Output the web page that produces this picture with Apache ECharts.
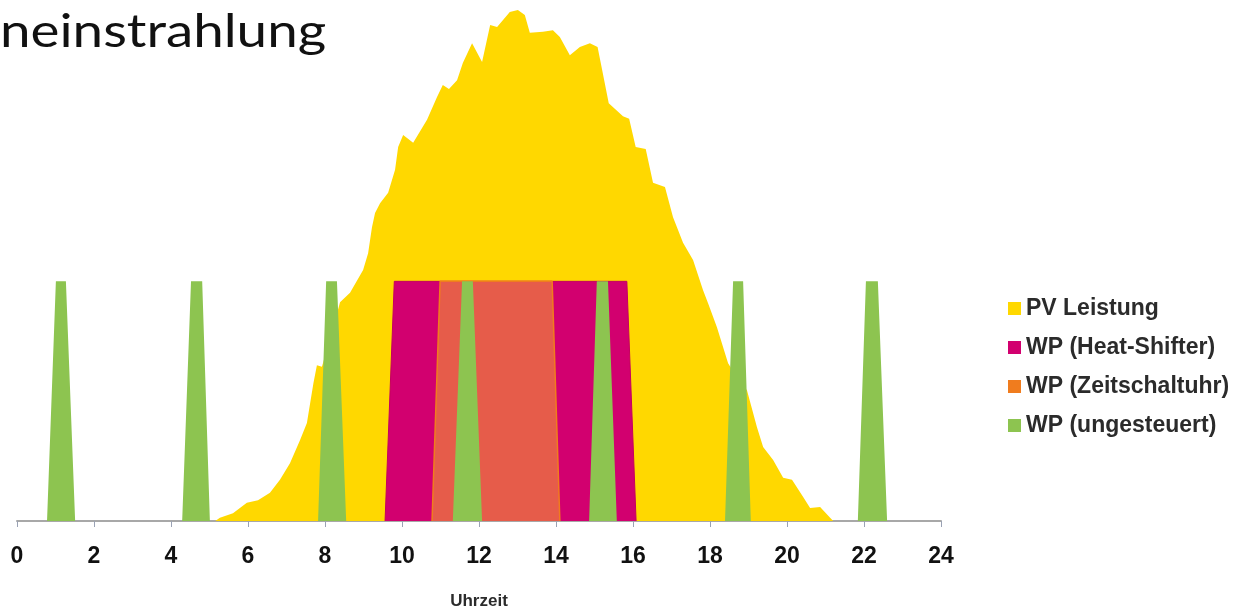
<!DOCTYPE html>
<html>
<head>
<meta charset="utf-8">
<script src="https://cdn.jsdelivr.net/npm/echarts@6/dist/echarts.min.js"></script>
<style>
html,body{margin:0;padding:0;background:#fff;}
#chart{width:1238px;height:610px;}
</style>
</head>
<body>
<div id="chart"></div>
<script>
// ---- data (x = hour of day, y = relative power 0..100) ----
const titleText = 'neinstrahlung';
const xAxisName = 'Uhrzeit';
const seriesNames = ['PV Leistung', 'WP (Heat-Shifter)', 'WP (Zeitschaltuhr)', 'WP (ungesteuert)'];

const pvHours = [5.15, 5.27, 5.61, 5.97, 6.26, 6.57, 6.83, 7.09, 7.35, 7.53, 7.7, 7.79, 7.92, 8.2, 8.39, 8.65, 8.99, 9.12, 9.22, 9.3, 9.43, 9.64, 9.82, 9.9, 10.03, 10.29, 10.65, 10.91, 11.06, 11.22, 11.43, 11.58, 11.82, 12.08, 12.29, 12.47, 12.8, 13.01, 13.19, 13.32, 13.66, 13.92, 14.1, 14.36, 14.62, 14.88, 15.08, 15.19, 15.37, 15.74, 15.9, 16.07, 16.33, 16.52, 16.83, 17.04, 17.3, 17.56, 17.82, 17.95, 18.18, 18.47, 18.7, 18.96, 19.22, 19.38, 19.64, 19.9, 20.13, 20.42, 20.6, 20.86, 21.12, 21.2];
const pvPower = [0, 0.6, 1.5, 3.5, 4.0, 5.4, 7.9, 11.1, 15.5, 18.8, 26.5, 29.9, 29.6, 36.7, 42.0, 43.8, 48.2, 51.4, 56.4, 59.1, 61.0, 63.0, 67.4, 71.8, 74.1, 72.6, 77.0, 81.4, 83.7, 82.9, 84.6, 87.9, 91.7, 88.1, 95.2, 94.8, 97.7, 98.1, 97.1, 93.7, 93.9, 94.2, 92.9, 89.4, 91.0, 91.7, 91.0, 86.9, 80.2, 77.7, 77.2, 71.8, 71.4, 64.9, 64.1, 58.3, 53.4, 50.1, 44.3, 41.8, 37.2, 30.3, 27.6, 25.1, 18.0, 14.2, 11.7, 8.3, 7.9, 4.6, 2.5, 2.7, 0.6, 0];

const heatShifterHours = [9.56, 9.8, 15.84, 16.08];
const heatShifterPower = [0, 46, 46, 0];

const timerHours = [10.78, 10.99, 13.9, 14.1];
const timerPower = [0, 46, 46, 0];

const uncontrolledHours = [0.78, 1.01, 1.27, 1.51, 4.29, 4.52, 4.81, 5.01, 7.82, 8.03, 8.31, 8.55, 11.32, 11.56, 11.84, 12.08, 14.86, 15.06, 15.35, 15.58, 18.39, 18.6, 18.86, 19.06, 21.84, 22.05, 22.36, 22.6];
const uncontrolledPower = [0, 46, 46, 0, 0, 46, 46, 0, 0, 46, 46, 0, 0, 46, 46, 0, 0, 46, 46, 0, 0, 46, 46, 0, 0, 46, 46, 0];

const xTicks = [0, 2, 4, 6, 8, 10, 12, 14, 16, 18, 20, 22, 24];

// ---- build ----
const zip = (xs, ys) => xs.map((x, i) => [x, ys[i]]);
const colors = {
  pv: '#ffd800',
  heat: '#d2006f',
  timerLegend: '#f07c1e',
  timerFill: '#e65c4a',
  green: '#8dc450'
};

const chart = echarts.init(document.getElementById('chart'), null, {renderer: 'canvas'});
chart.setOption({
  animation: false,
  backgroundColor: '#ffffff',
  graphic: [{
    type: 'text',
    x: 0,
    y: 9,
    scaleX: 1.19,
    style: {
      text: titleText,
      font: '46px Lato, "Open Sans", sans-serif',
      fill: '#111111'
    }
  }],
  legend: {
    orient: 'vertical',
    left: 1008,
    top: 297,
    padding: 0,
    icon: 'rect',
    itemWidth: 13,
    itemHeight: 13,
    itemGap: 16,
    textStyle: {
      fontFamily: '"Liberation Sans", Arial, sans-serif',
      fontWeight: 'bold',
      fontSize: 23,
      color: '#2b2b2b'
    },
    data: seriesNames
  },
  grid: {left: 17, right: 297, top: 0, bottom: 89, containLabel: false, outerBoundsMode: 'none'},
  xAxis: {
    type: 'value',
    min: 0,
    max: 24,
    interval: 2,
    name: xAxisName,
    nameLocation: 'middle',
    nameGap: 72,
    nameTextStyle: {
      fontFamily: '"Liberation Sans", Arial, sans-serif',
      fontWeight: 'bold',
      fontSize: 17,
      color: '#2b2b2b'
    },
    axisLine: {show: true, onZero: false, lineStyle: {color: '#a8a8a8', width: 2}},
    axisTick: {show: true, length: 6, lineStyle: {color: '#9aa2b4', width: 1}},
    axisLabel: {
      margin: 24,
      fontFamily: '"Liberation Sans", Arial, sans-serif',
      fontWeight: 'bold',
      fontSize: 23,
      color: '#111111',
      customValues: xTicks
    },
    splitLine: {show: false}
  },
  yAxis: {type: 'value', min: 0, max: 100, show: false, splitLine: {show: false}},
  series: [
    {
      name: seriesNames[0], type: 'line', data: zip(pvHours, pvPower),
      symbol: 'none', lineStyle: {width: 0}, itemStyle: {color: colors.pv},
      areaStyle: {color: colors.pv, opacity: 1}, z: 1
    },
    {
      name: seriesNames[1], type: 'line', data: zip(heatShifterHours, heatShifterPower),
      symbol: 'none', lineStyle: {width: 1, color: '#c4005f'}, itemStyle: {color: colors.heat},
      areaStyle: {color: colors.heat, opacity: 1}, z: 2
    },
    {
      name: seriesNames[2], type: 'line', data: zip(timerHours, timerPower),
      symbol: 'none', lineStyle: {width: 1.5, color: colors.timerLegend}, itemStyle: {color: colors.timerLegend},
      areaStyle: {color: colors.timerFill, opacity: 1}, z: 3
    },
    {
      name: seriesNames[3], type: 'line', data: zip(uncontrolledHours, uncontrolledPower),
      symbol: 'none', lineStyle: {width: 0}, itemStyle: {color: colors.green},
      areaStyle: {color: colors.green, opacity: 1}, z: 4
    }
  ]
});
</script>
</body>
</html>
